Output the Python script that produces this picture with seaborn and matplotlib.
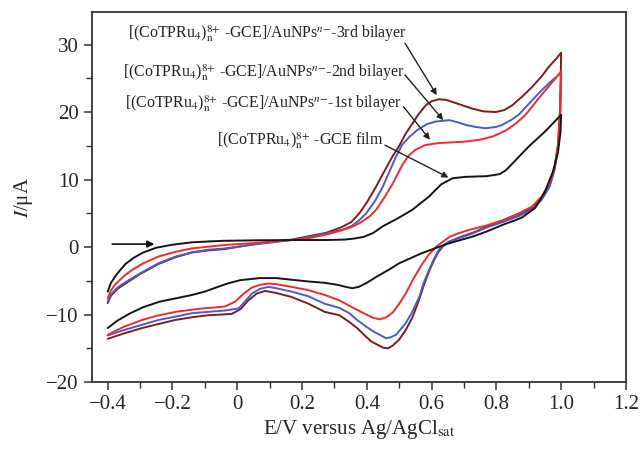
import matplotlib
matplotlib.use("Agg")
import matplotlib.pyplot as plt
import seaborn as sns

# GCE film (black): forward scan then reverse scan
black_E = [-0.40, -0.39, -0.37, -0.345, -0.32, -0.29, -0.25, -0.20, -0.14, -0.08, -0.04, 0.06, 0.17,
           0.27, 0.33, 0.36, 0.39, 0.42, 0.45, 0.49, 0.54, 0.59, 0.63, 0.665, 0.705, 0.77, 0.81, 0.83,
           0.85, 0.90, 0.95, 1.00,
           0.998, 0.99, 0.975, 0.95, 0.92, 0.88, 0.86, 0.82, 0.77, 0.73, 0.65, 0.57, 0.50, 0.47, 0.43,
           0.40, 0.375, 0.355, 0.335, 0.31, 0.27, 0.22, 0.16, 0.12, 0.07, 0.01, -0.03, -0.06, -0.10,
           -0.14, -0.19, -0.24, -0.29, -0.33, -0.37, -0.40]
black_I = [-6.6, -5.3, -3.9, -2.5, -1.6, -0.8, -0.1, 0.35, 0.7, 0.85, 0.93, 1.0, 1.04,
           1.04, 1.1, 1.25, 1.5, 2.1, 3.1, 4.1, 5.5, 7.4, 9.3, 10.2, 10.4, 10.5, 10.8, 11.4,
           12.4, 14.9, 17.1, 19.6,
           17.0, 14.0, 11.2, 8.2, 5.8, 4.4, 4.0, 3.3, 2.3, 1.6, 0.5, -0.9, -2.4, -3.3, -4.4,
           -5.3, -5.9, -6.1, -5.9, -5.6, -5.3, -5.1, -4.8, -4.6, -4.6, -4.9, -5.4, -5.9, -6.6,
           -7.1, -7.6, -8.1, -8.9, -9.8, -10.9, -12.0]

# 1st bilayer (red)
red_E = [-0.40, -0.39, -0.376, -0.35, -0.325, -0.29, -0.243, -0.19, -0.14, -0.04, 0.065, 0.168, 0.22,
         0.27, 0.31, 0.35, 0.38, 0.41, 0.43, 0.455, 0.48, 0.51, 0.53, 0.55, 0.58, 0.62, 0.70, 0.75,
         0.79, 0.83, 0.86, 0.89, 0.93, 0.965, 1.00,
         0.997, 0.99, 0.98, 0.965, 0.94, 0.91, 0.87, 0.82, 0.77, 0.72, 0.68, 0.655, 0.635, 0.613,
         0.59, 0.57, 0.545, 0.52, 0.50, 0.48, 0.46, 0.44, 0.42, 0.39, 0.35, 0.315, 0.27, 0.22, 0.168,
         0.12, 0.096, 0.07, 0.045, 0.02, -0.007, -0.038, -0.08, -0.11, -0.19, -0.25, -0.294, -0.35, -0.40]
red_I = [-7.6, -6.4, -5.5, -4.3, -3.4, -2.4, -1.4, -0.7, -0.2, 0.3, 0.64, 1.04, 1.3,
         1.8, 2.3, 2.9, 3.6, 4.6, 5.6, 7.4, 9.4, 12.2, 13.6, 14.4, 15.1, 15.4, 15.6, 15.9,
         16.4, 17.3, 18.3, 19.6, 22.0, 24.0, 26.0,
         20.0, 15.0, 12.0, 9.5, 7.5, 6.0, 5.0, 4.0, 3.2, 2.6, 2.0, 1.5, 0.8, 0.0,
         -1.2, -2.6, -4.6, -6.9, -8.4, -9.7, -10.4, -10.7, -10.5, -9.8, -8.8, -7.9, -7.1, -6.4, -5.9,
         -5.5, -5.4, -5.6, -6.0, -6.9, -8.1, -8.8, -9.0, -9.1, -9.6, -10.2, -10.8, -11.8, -13.0]

# 2nd bilayer (blue)
blue_E = [-0.40, -0.39, -0.37, -0.345, -0.30, -0.243, -0.19, -0.14, -0.09, -0.038, 0.065, 0.168, 0.223,
          0.27, 0.326, 0.352, 0.375, 0.398, 0.425, 0.449, 0.47, 0.49, 0.51, 0.531, 0.555, 0.585, 0.613,
          0.654, 0.68, 0.705, 0.735, 0.767, 0.80, 0.818, 0.845, 0.869, 0.90, 0.931, 0.965, 1.00,
          0.997, 0.99, 0.98, 0.965, 0.94, 0.91, 0.87, 0.82, 0.77, 0.726, 0.69, 0.654, 0.635, 0.623,
          0.607, 0.592, 0.575, 0.562, 0.54, 0.52, 0.49, 0.472, 0.459, 0.44, 0.42, 0.398, 0.37, 0.346,
          0.315, 0.27, 0.22, 0.168, 0.12, 0.096, 0.07, 0.045, 0.025, 0.004, -0.038, -0.09, -0.14,
          -0.19, -0.243, -0.30, -0.35, -0.40]
blue_I = [-8.1, -7.0, -6.0, -5.2, -3.9, -2.4, -1.4, -0.8, -0.4, -0.2, 0.44, 1.04, 1.5,
          1.95, 2.6, 3.1, 3.9, 5.0, 6.8, 8.9, 11.2, 13.4, 15.2, 16.3, 17.3, 18.2, 18.6,
          18.8, 18.5, 18.1, 17.8, 17.6, 17.8, 18.1, 18.8, 19.6, 21.2, 22.8, 24.4, 25.8,
          19.0, 14.5, 11.5, 9.0, 7.0, 5.6, 4.6, 3.7, 2.9, 2.0, 1.4, 0.8, 0.2, -0.4,
          -1.8, -3.4, -5.4, -7.4, -9.6, -11.3, -13.0, -13.4, -13.5, -13.0, -12.5, -11.8, -10.8, -9.8,
          -9.0, -8.4, -7.3, -6.6, -6.1, -5.9, -6.2, -6.9, -8.0, -9.1, -9.4, -9.6, -9.8,
          -10.3, -10.8, -11.6, -12.3, -13.1]

# 3rd bilayer (dark red)
brown_E = [-0.40, -0.39, -0.37, -0.345, -0.30, -0.243, -0.19, -0.14, -0.09, -0.038, 0.065, 0.168, 0.22,
           0.274, 0.32, 0.352, 0.377, 0.40, 0.428, 0.455, 0.479, 0.50, 0.52, 0.541, 0.56, 0.582, 0.60,
           0.623, 0.645, 0.664, 0.695, 0.726, 0.76, 0.798, 0.825, 0.849, 0.88, 0.91, 0.94, 0.962,
           0.985, 1.00,
           0.997, 0.99, 0.98, 0.965, 0.94, 0.91, 0.87, 0.82, 0.77, 0.726, 0.69, 0.654, 0.635, 0.62,
           0.607, 0.592, 0.575, 0.56, 0.54, 0.52, 0.50, 0.48, 0.465, 0.45, 0.43, 0.414, 0.398, 0.37,
           0.346, 0.315, 0.27, 0.22, 0.168, 0.12, 0.086, 0.06, 0.034, 0.01, -0.017, -0.05, -0.089,
           -0.14, -0.191, -0.243, -0.294, -0.35, -0.40]
brown_I = [-8.3, -7.2, -6.2, -5.4, -4.0, -2.5, -1.5, -0.8, -0.5, -0.3, 0.55, 1.1, 1.6,
           2.1, 2.9, 3.7, 5.0, 6.6, 8.9, 11.3, 13.4, 15.0, 16.8, 18.3, 19.7, 21.0, 21.6,
           21.9, 21.8, 21.5, 21.0, 20.5, 20.1, 20.0, 20.3, 21.0, 22.3, 23.7, 25.3, 26.7,
           27.9, 28.8,
           21.0, 15.0, 11.8, 9.2, 7.2, 5.8, 4.7, 3.8, 3.0, 2.1, 1.5, 0.8, 0.1, -0.8,
           -2.0, -3.6, -5.8, -8.0, -10.5, -12.3, -13.7, -14.6, -15.0, -14.9, -14.4, -14.0, -13.3, -12.0,
           -11.1, -10.1, -9.6, -8.4, -7.4, -6.8, -6.5, -6.9, -7.9, -9.2, -9.9, -10.0, -10.1,
           -10.4, -10.8, -11.4, -12.0, -12.8, -13.6]

labels = [
    r"[(CoTPRu$_4$)$_{\rm n}^{8{+}}$ -GCE]/AuNPs$^{n{-}}$-3rd bilayer",
    r"[(CoTPRu$_4$)$_{\rm n}^{8{+}}$ -GCE]/AuNPs$^{n{-}}$-2nd bilayer",
    r"[(CoTPRu$_4$)$_{\rm n}^{8{+}}$ -GCE]/AuNPs$^{n{-}}$-1st bilayer",
    r"[(CoTPRu$_4$)$_{\rm n}^{8{+}}$ -GCE film",
]
label_size = [11.4, 11.4, 11.4, 11.5]
label_pos = [(-0.337, 31.0), (-0.352, 25.2), (-0.346, 20.6), (-0.062, 15.1)]
arrow_tail = [(0.518, 30.2), (0.518, 25.5), (0.513, 20.8), (0.456, 15.1)]
arrow_head = [(0.616, 22.5), (0.636, 18.8), (0.595, 15.9), (0.652, 10.3)]

sns.set_style("ticks")
plt.rcParams["font.family"] = ["Liberation Serif", "DejaVu Serif"]
plt.rcParams["mathtext.fontset"] = "stix"

fig = plt.figure(figsize=(6.4, 4.5), dpi=100)
ax = fig.add_axes([0.144, 0.151, 0.834, 0.822])

sns.lineplot(x=brown_E, y=brown_I, sort=False, estimator=None, color="#7d1d1d", lw=1.4, ax=ax)
sns.lineplot(x=blue_E, y=blue_I, sort=False, estimator=None, color="#4a5ccc", lw=1.4, ax=ax)
sns.lineplot(x=red_E, y=red_I, sort=False, estimator=None, color="#f52a2a", lw=1.4, ax=ax)
sns.lineplot(x=black_E, y=black_I, sort=False, estimator=None, color="#151515", lw=1.4, ax=ax)

for txt, fs, pos, tail, head in zip(labels, label_size, label_pos, arrow_tail, arrow_head):
    ax.text(pos[0], pos[1], txt, fontsize=fs, ha="left", va="baseline", color="#222222")
    ax.annotate("", xy=head, xytext=tail,
                arrowprops=dict(arrowstyle="-|>", color="#222222", lw=1.0, mutation_scale=9,
                                shrinkA=0, shrinkB=0))

# scan direction arrow
ax.annotate("", xy=(-0.256, 0.44), xytext=(-0.386, 0.44),
            arrowprops=dict(arrowstyle="-|>", color="#111111", lw=1.2, mutation_scale=10,
                            shrinkA=0, shrinkB=0))

ax.set_xlim(-0.448, 1.2)
ax.set_ylim(-20, 34.8)
ax.set_xticks([-0.4, -0.2, 0, 0.2, 0.4, 0.6, 0.8, 1.0, 1.2])
ax.set_xticklabels(["\u22120.4", "\u22120.2", "0", "0.2", "0.4", "0.6", "0.8", "1.0", "1.2"])
ax.set_xticks([-0.3, -0.1, 0.1, 0.3, 0.5, 0.7, 0.9, 1.1], minor=True)
ax.set_yticks([-20, -10, 0, 10, 20, 30])
ax.set_yticklabels(["\u221220", "\u221210", "0", "10", "20", "30"])
ax.set_yticks([-15, -5, 5, 15, 25], minor=True)
ax.tick_params(which="major", direction="out", length=6, width=1.1, labelsize=15, color="#333333")
ax.tick_params(which="minor", direction="out", length=4, width=1.0, color="#333333")
for sp in ax.spines.values():
    sp.set_visible(True)
    sp.set_linewidth(1.3)
    sp.set_color("#333333")

ax.set_xlabel(r"E/V versus Ag/AgCl$_{\rm sat}$", fontsize=15, labelpad=3)
ax.set_ylabel(r"$I$/μA", fontsize=15, labelpad=8)

fig.savefig("out.png", dpi=100)
